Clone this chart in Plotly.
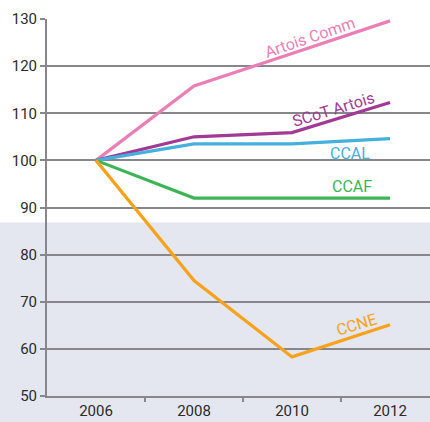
import plotly.graph_objects as go

years = ["2006", "2008", "2010", "2012"]
artois_comm = [100, 115.8, 122.7, 129.6]
scot_artois = [100, 105.0, 105.9, 112.3]
ccal = [100, 103.5, 103.5, 104.6]
ccaf = [100, 92.0, 92.0, 92.0]
ccne = [100, 74.5, 58.3, 65.1]

series = [
    ("Artois Comm", artois_comm, "#ea7fb5", 2.18, 126.0, -19),
    ("SCoT Artois", scot_artois, "#a03a95", 2.42, 110.8, -17),
    ("CCAL", ccal, "#45b0de", 2.59, 101.4, 0),
    ("CCAF", ccaf, "#3db556", 2.61, 94.4, 0),
    ("CCNE", ccne, "#f7a21b", 2.66, 65.1, -17),
]

xpos = list(range(len(years)))
fig = go.Figure()
for name, vals, col, lx, ly, rot in series:
    fig.add_trace(go.Scatter(x=xpos, y=vals, mode="lines", name=name,
                             line=dict(color=col, width=3.2), showlegend=False,
                             cliponaxis=False))
    fig.add_annotation(x=lx, y=ly, text=name, showarrow=False, textangle=rot,
                       font=dict(family="Roboto", size=16, color=col))

# lavender lower background band
fig.add_shape(type="rect", xref="paper", yref="paper", x0=-0.2, x1=1.2,
              y0=-0.2, y1=(86.84 - 50) / 80, fillcolor="#e4e6f0",
              line=dict(width=0), layer="below")

grid = "#86868b"
fig.update_layout(
    width=430, height=422,
    margin=dict(l=47, r=0, t=19, b=26, autoexpand=False),
    paper_bgcolor="white", plot_bgcolor="rgba(0,0,0,0)",
    font=dict(family="Roboto", size=15, color="#2b2b2b"),
)
fig.update_xaxes(range=[-0.5, 3.408], tickvals=xpos, ticktext=years, ticks="",
                 automargin=False,
                 showgrid=False, zeroline=False, showline=True, linecolor=grid,
                 linewidth=2,
                 minor=dict(tickvals=[0.5, 1.5, 2.5], ticks="outside", ticklen=4,
                            tickcolor=grid, tickwidth=2, showgrid=False),
                 tickfont=dict(size=15, color="#2b2b2b"))
fig.update_yaxes(range=[50, 130], tickvals=list(range(50, 131, 10)),
                 automargin=False,
                 showgrid=True, gridcolor=grid, gridwidth=2, zeroline=False,
                 showline=True, linecolor=grid, linewidth=2,
                 ticks="outside", ticklen=5, tickcolor=grid, tickwidth=2,
                 tickfont=dict(size=15, color="#2b2b2b"))

fig.write_html("out.html", config={"displayModeBar": False},
               post_script="document.body.style.margin='0';document.body.style.padding='0';")
